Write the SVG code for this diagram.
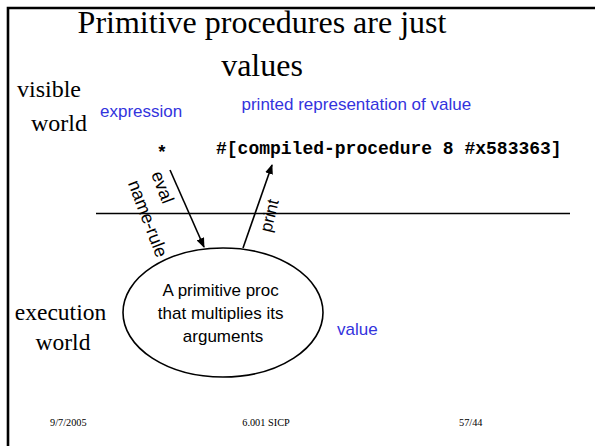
<svg xmlns="http://www.w3.org/2000/svg" width="595" height="446" viewBox="0 0 595 446">
<style>
.serif{font-family:"Liberation Serif","Times New Roman",serif;fill:#000}
.sans{font-family:"Liberation Sans",Arial,sans-serif;fill:#000}
.blue{font-family:"Liberation Sans",Arial,sans-serif;fill:#3333dd;font-size:17px}
.mono{font-family:"Liberation Mono","Courier New",monospace;font-weight:bold;font-size:18px;fill:#000}
.ln{stroke:#000;stroke-width:1.6;fill:none}
</style>
<defs>
<marker id="ah" markerWidth="10" markerHeight="8" refX="9" refY="4" orient="auto" markerUnits="userSpaceOnUse">
<path d="M0,0 L10,4 L0,8 z" fill="#000"/>
</marker>
</defs>
<rect width="595" height="446" fill="#fff"/>
<path d="M8,446 V8 H595" fill="none" stroke="#000" stroke-width="2.6"/>
<g id="title">
<text class="serif" font-size="32" x="262" y="33" text-anchor="middle">Primitive procedures are just</text>
<text class="serif" font-size="32" x="262" y="76" text-anchor="middle">values</text>
</g>
<g id="labels">
<text class="serif" font-size="24" x="17" y="97">visible</text>
<text class="serif" font-size="24" x="31" y="131">world</text>
<text class="serif" font-size="23.5" x="60.5" y="320" text-anchor="middle">execution</text>
<text class="serif" font-size="23.5" x="63" y="350" text-anchor="middle">world</text>
<text class="blue" x="100" y="117">expression</text>
<text class="blue" x="241.5" y="110">printed representation of value</text>
<text class="blue" x="337" y="335">value</text>
</g>
<g id="star"><text class="mono" x="156.5" y="158">*</text></g>
<g id="printed"><text class="mono" x="216" y="154">#[compiled-procedure 8 #x583363]</text></g>
<g id="divider"><line class="ln" x1="96" y1="213.5" x2="570" y2="213.5"/></g>
<g id="proc">
<ellipse class="ln" cx="223" cy="312.5" rx="100" ry="64.5"/>
<text class="sans" font-size="17" text-anchor="middle">
<tspan x="223" y="296">A primitive proc</tspan>
<tspan x="223" y="319">that multiplies its</tspan>
<tspan x="223" y="342">arguments</tspan>
</text>
</g>
<g id="connectors">
<line class="ln" x1="170" y1="170" x2="204" y2="247" marker-end="url(#ah)"/>
<line class="ln" x1="243" y1="248" x2="272" y2="165" marker-end="url(#ah)"/>
<text class="sans" font-size="18" transform="translate(151,174) rotate(69)"><tspan x="0" y="0">eval</tspan><tspan x="0" y="25">name-rule</tspan></text>
<text class="sans" font-size="17" transform="translate(271,233) rotate(-76)">print</text>
</g>
<g id="footer">
<text class="serif" font-size="10.3" x="50" y="426">9/7/2005</text>
<text class="serif" font-size="10.3" x="266" y="426" text-anchor="middle">6.001 SICP</text>
<text class="serif" font-size="10.3" x="459" y="426">57/44</text>
</g>
</svg>
